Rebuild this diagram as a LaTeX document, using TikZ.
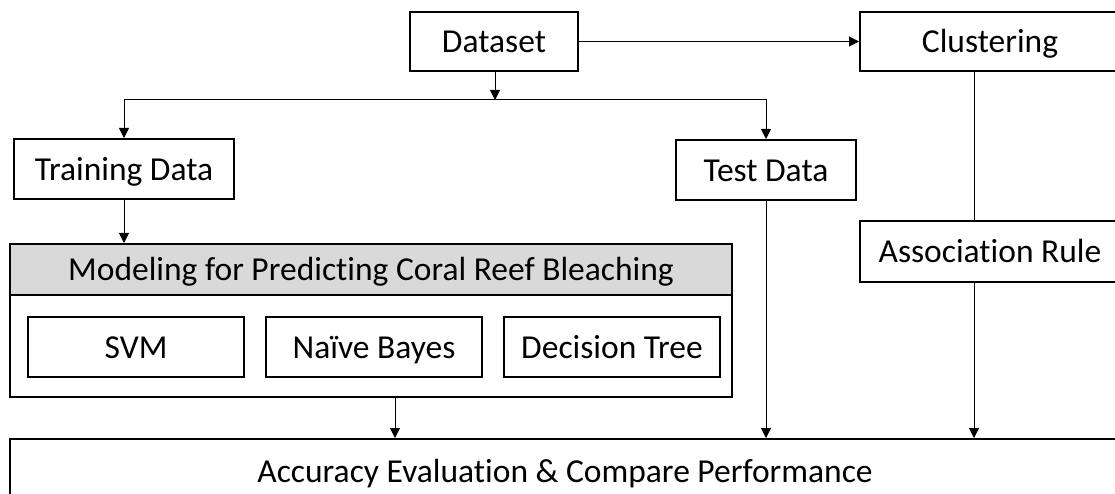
\documentclass[tikz,border=0pt]{standalone}
\usepackage{fontspec}
\setmainfont{Carlito}[Ligatures=NoCommon]
\usepackage{tikz}
\usetikzlibrary{arrows.meta,calc,positioning,shapes}
\tikzset{
  flowbox/.style = {align=center, inner sep=0pt, rectangle, draw=black, line width=2pt,
  fill=white, text centered, text height=22.5pt, text depth=0pt,
  font=\fontsize{33.5}{40}\selectfont},
  fb_top/.style = {flowbox, minimum height=59pt},
  fb_mid/.style = {flowbox, minimum height=60pt},
  fb_alg/.style = {flowbox, minimum width=216pt, minimum height=60pt}
}
\definecolor{hdr_gray}{RGB}{217, 217, 217}

\begin{document}
\begin{tikzpicture}[->,>={Triangle[width=10pt,length=10pt]},x=1pt,y=-1pt,line width=1pt,
        	hdr/.style={fill=hdr_gray},
	        wide/.style={minimum width=260pt}]
	\useasboundingbox (0,0) rectangle (1115,494);
	% top row
	\node (data) [fb_top, minimum width=168pt] at (494,41.5) {Dataset};
	\node (clust) [fb_top, wide] at (990,41.5) {Clustering};
	\node (train) [fb_mid, minimum width=220pt] at (124,169) {Training Data};
	\node (test) [fb_mid, minimum width=180pt] at (766,170) {Test Data};
	\node (assoc) [flowbox, wide, minimum height=61pt] at (990,251.5) {Association Rule};
	% modeling block
	\node (model) [flowbox, fill=none, minimum width=722pt, minimum height=153pt] at (371,320.5) {};
	\node (head) [flowbox, hdr, minimum width=722pt, minimum height=51pt] at (371,269.5)
	        {Modeling for Predicting Coral Reef Bleaching};
	\node (svm) [fb_alg] at (136,347) {SVM};
	\node (nb) [fb_alg, right=20pt of svm] {Na\"{\i}ve Bayes};
	\node (dt) [fb_alg, right=20pt of nb] {Decision Tree};
	\node (acc) [flowbox, minimum width=1110pt, minimum height=64pt] at (565,471)
	        {Accuracy Evaluation \& Compare Performance};
	% connectors
	\coordinate (split) at (495,100);
	\coordinate (m1) at ($(model.south)+(24,0)$);
	\coordinate (c1) at ($(clust.south)+(-16,0)$);
	\coordinate (a1) at ($(assoc.south)+(-16,0)$);
	\draw (data.east) -- (clust.west);
	\draw (data.south -| split) -- (split);
	\draw (split) -| (train.north);
	\draw (split) -| (test.north);
	\draw (train.south) -- (train.south |- model.north);
	\draw (m1) -- (m1 |- acc.north);
	\draw (test.south) -- (test.south |- acc.north);
	\draw[-] (c1) -- (c1 |- assoc.north);
	\draw (a1) -- (a1 |- acc.north);
\end{tikzpicture}
\end{document}
